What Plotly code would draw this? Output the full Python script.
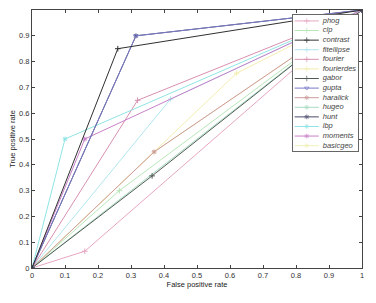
import plotly.graph_objects as go

names = ["phog", "clp", "contrast", "fitellipse", "fourier", "fourierdes", "gabor",
         "gupta", "haralick", "hugeo", "hunt", "lbp", "moments", "basicgeo"]
fpr = [[0, 0.16, 1], [0, 0.265, 1], [0, 0.26, 1], [0, 0.42, 1], [0, 0.32, 1], [0, 0.62, 1],
       [0, 0.364, 1], [0, 0.315, 1], [0, 0.37, 1], [0, 1], [0, 0.315, 1], [0, 0.10, 1],
       [0, 0.16, 1], [0, 0.37, 1]]
tpr = [[0, 0.065, 1], [0, 0.30, 1], [0, 0.85, 1], [0, 0.655, 1], [0, 0.65, 1], [0, 0.755, 1],
       [0, 0.357, 1], [0, 0.90, 1], [0, 0.45, 1], [0, 1], [0, 0.90, 1], [0, 0.50, 1],
       [0, 0.50, 1], [0, 0.45, 1]]
colors = ["#e6a6c0", "#b8e6b8", "#303030", "#b0e6ee", "#d890b0", "#f2eeb0", "#505a55",
          "#7a7ac8", "#cc9a9a", "#a8dcc0", "#4a4a6a", "#90e4e4", "#c880c8", "#f0f0b8"]
symbols = ["cross-thin", "cross-thin", "cross-thin", "cross-thin", "cross-thin", "cross-thin",
           "cross-thin", "triangle-down-open", "asterisk", "asterisk", "asterisk", "asterisk",
           "asterisk", "asterisk"]
ticks = [0, 0.1, 0.2, 0.3, 0.4, 0.5, 0.6, 0.7, 0.8, 0.9, 1]
tick_text = ["0", "0.1", "0.2", "0.3", "0.4", "0.5", "0.6", "0.7", "0.8", "0.9", "1"]

fig = go.Figure()
draw_order = [0, 1, 3, 5, 13, 9, 8, 6, 4, 11, 12, 10, 7, 2]
for k in draw_order:
    c = colors[k]
    fig.add_trace(go.Scatter(
        x=fpr[k], y=tpr[k], mode="lines+markers", name=names[k],
        line=dict(color=c, width=1),
        marker=dict(symbol=symbols[k], size=4, color=c, line=dict(color=c, width=1)),
        showlegend=False, xaxis="x", yaxis="y"))

# manual legend in an inset axes
rows = list(range(len(names)))
for i, (n, c, s) in enumerate(zip(names, colors, symbols)):
    fig.add_trace(go.Scatter(
        x=[0.03, 0.215, 0.4], y=[i, i, i], mode="lines+markers",
        line=dict(color=c, width=1),
        marker=dict(symbol=s, size=[0, 4, 0], color=c, line=dict(color=c, width=1)),
        showlegend=False, xaxis="x2", yaxis="y2", hoverinfo="skip"))
fig.add_trace(go.Scatter(
    x=[0.46] * len(names), y=rows, mode="text", text=names, textposition="middle right",
    textfont=dict(family="Liberation Sans, Arial", size=7.5, color="#444", style="italic"),
    showlegend=False, xaxis="x2", yaxis="y2", hoverinfo="skip"))

axis_common = dict(showline=True, linecolor="#444", linewidth=1, mirror="allticks",
                   ticks="inside", ticklen=3, tickcolor="#444", showgrid=False,
                   zeroline=False, automargin=False,
                   tickfont=dict(size=7.5, color="#333"))

fig.update_layout(
    width=368, height=295,
    margin=dict(l=24, r=14, t=2, b=35),
    paper_bgcolor="white", plot_bgcolor="white",
    font=dict(family="Liberation Sans, Arial", size=7.5, color="#222"),
    xaxis=dict(range=[0, 1], tickvals=ticks, ticktext=tick_text,
               title=dict(text="False positive rate", font=dict(size=7.5), standoff=2),
               domain=[0, 1], **axis_common),
    yaxis=dict(range=[0, 1], tickvals=ticks, ticktext=tick_text,
               title=dict(text="True positive rate", font=dict(size=7.5), standoff=2),
               domain=[0, 1], **axis_common),
    xaxis2=dict(domain=[0.79, 0.988], range=[0, 1], anchor="y2", showline=True,
                linecolor="#666", linewidth=1, mirror=True, showticklabels=False,
                ticks="", showgrid=False, zeroline=False, fixedrange=True),
    yaxis2=dict(domain=[0.453, 0.981], range=[13.57, -0.63], anchor="x2", showline=True,
                linecolor="#666", linewidth=1, mirror=True, showticklabels=False,
                ticks="", showgrid=False, zeroline=False, fixedrange=True),
)

fig.write_html("out.html")
